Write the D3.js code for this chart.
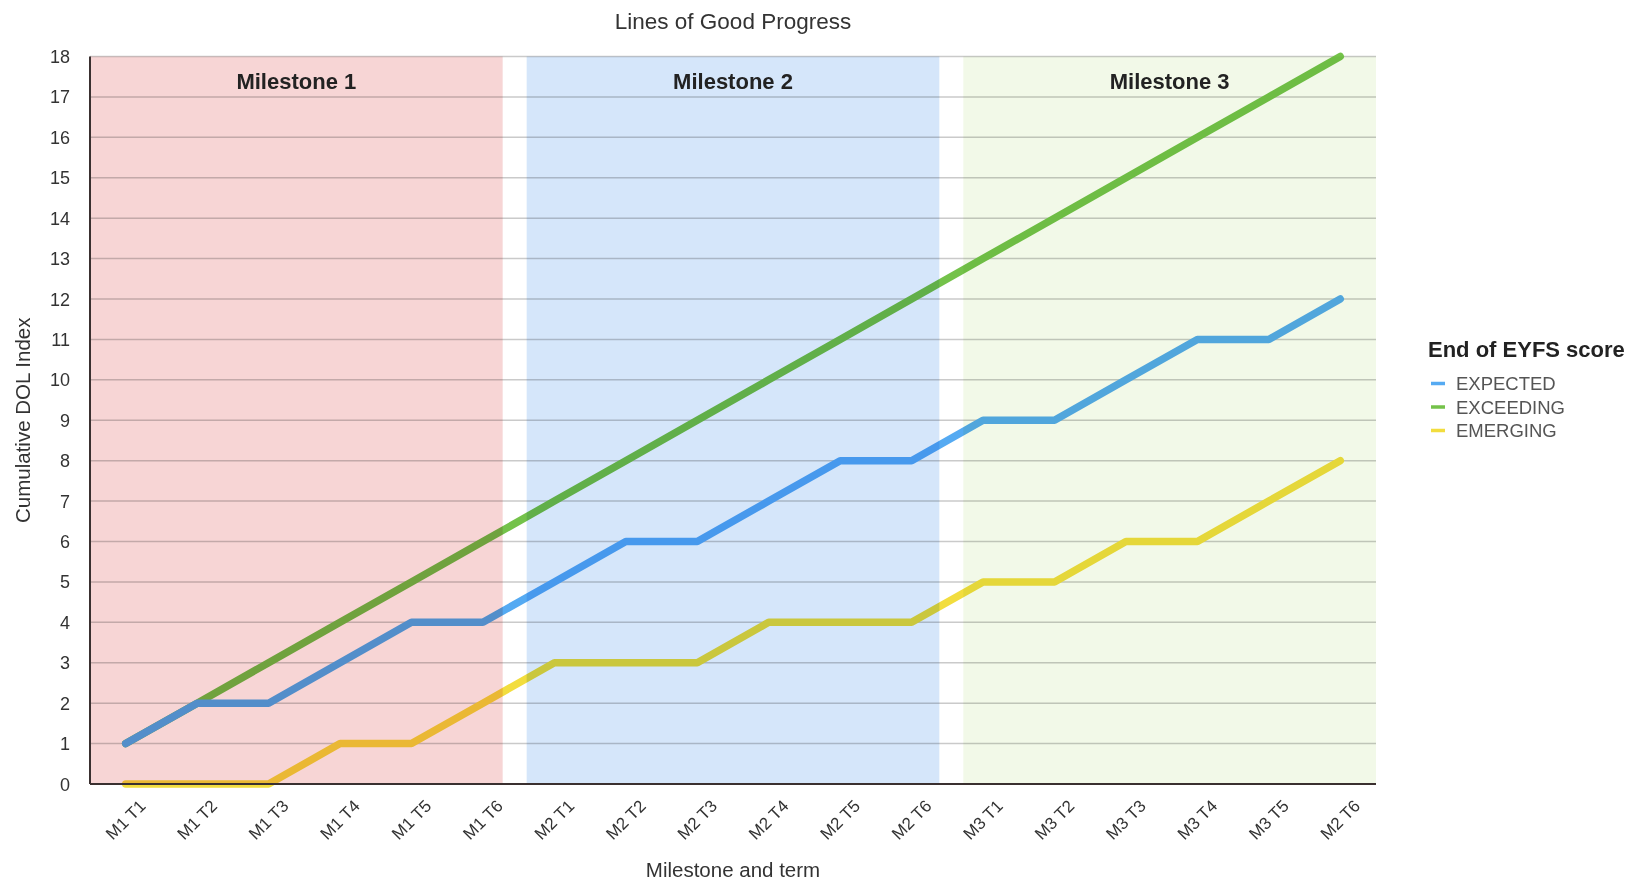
<!DOCTYPE html>
<html>
<head>
<meta charset="utf-8">
<script src="https://cdn.jsdelivr.net/npm/d3@7"></script>
<style>
  html, body { margin: 0; padding: 0; background: #fff; }
  svg { display: block; font-family: "Liberation Sans", Arial, sans-serif; }
</style>
</head>
<body>
<svg id="chart" width="1641" height="881"></svg>
<script>
// ---- Data ----
const categories = ["M1 T1","M1 T2","M1 T3","M1 T4","M1 T5","M1 T6",
                    "M2 T1","M2 T2","M2 T3","M2 T4","M2 T5","M2 T6",
                    "M3 T1","M3 T2","M3 T3","M3 T4","M3 T5","M2 T6"];
const expected  = [1,2,2,3,4,4,5,6,6,7,8,8,9,9,10,11,11,12];
const exceeding = [1,2,3,4,5,6,7,8,9,10,11,12,13,14,15,16,17,18];
const emerging  = [0,0,0,1,1,2,3,3,3,4,4,4,5,5,6,6,7,8];
const milestones = ["Milestone 1","Milestone 2","Milestone 3"];
const yTicks = d3.range(0, 19);
const seriesNames = ["EXPECTED","EXCEEDING","EMERGING"];

// ---- Layout ----
const svg = d3.select("#chart");
const L = 90, R = 1376, T = 56.5, B = 784;
const x = d3.scalePoint().domain(d3.range(categories.length)).range([L, R]).padding(0.5);
const y = d3.scaleLinear().domain([0, 18]).range([B, T]);
const colors = { EXPECTED: "#55aaf2", EXCEEDING: "#74c24a", EMERGING: "#f2dd3e" };
const bandColors = ["#f7d5d5", "#d5e6fa", "#f2f9e8"];

// title
svg.append("text").attr("x", (L + R) / 2).attr("y", 29).attr("text-anchor", "middle")
  .attr("font-size", 22.5).attr("fill", "#333").text("Lines of Good Progress");

// gridlines
svg.append("g").selectAll("line").data(yTicks).join("line")
  .attr("x1", L).attr("x2", R).attr("y1", d => y(d)).attr("y2", d => y(d))
  .attr("stroke", "#cacaca").attr("stroke-width", 1.5);

// lines
const line = d3.line().x((d, i) => x(i)).y(d => y(d));
const series = [["EXCEEDING", exceeding], ["EXPECTED", expected], ["EMERGING", emerging]];
svg.append("g").selectAll("path").data(series).join("path")
  .attr("d", d => line(d[1]))
  .attr("fill", "none")
  .attr("stroke", d => colors[d[0]])
  .attr("stroke-width", 7.5)
  .attr("stroke-linejoin", "round")
  .attr("stroke-linecap", "round");

// milestone bands (multiply over the lines)
const gap = 24;
const bandW = (R - L - 2 * gap) / 3;
const bands = svg.append("g");
milestones.forEach((m, i) => {
  const bx = L + i * (bandW + gap);
  bands.append("rect").attr("x", bx).attr("y", T).attr("width", bandW).attr("height", B - T)
    .attr("fill", bandColors[i]).style("mix-blend-mode", "multiply");
});
milestones.forEach((m, i) => {
  const bx = L + i * (bandW + gap);
  svg.append("text").attr("x", bx + bandW / 2).attr("y", 88.5).attr("text-anchor", "middle")
    .attr("font-size", 22).attr("font-weight", "bold").attr("fill", "#222").text(m);
});

// axes
svg.append("line").attr("x1", L).attr("x2", L).attr("y1", T).attr("y2", B)
  .attr("stroke", "#3a3030").attr("stroke-width", 2);
svg.append("line").attr("x1", L).attr("x2", R).attr("y1", B).attr("y2", B)
  .attr("stroke", "#3a3030").attr("stroke-width", 2);

// y tick labels
svg.append("g").selectAll("text").data(yTicks).join("text")
  .attr("x", 70).attr("y", d => y(d) + 6.5).attr("text-anchor", "end")
  .attr("font-size", 18).attr("fill", "#333").text(d => d);

// x tick labels
svg.append("g").selectAll("text").data(categories).join("text")
  .attr("transform", (d, i) => `translate(${x(i) + 21},${B + 23}) rotate(-45)`)
  .attr("text-anchor", "end").attr("font-size", 17).attr("fill", "#333").text(d => d);

// axis titles
svg.append("text").attr("x", (L + R) / 2).attr("y", 877).attr("text-anchor", "middle")
  .attr("font-size", 20.5).attr("fill", "#333").text("Milestone and term");
svg.append("text").attr("transform", `translate(30,${(T + B) / 2}) rotate(-90)`)
  .attr("text-anchor", "middle").attr("font-size", 20.5).attr("fill", "#333").text("Cumulative DOL Index");

// legend
svg.append("text").attr("x", 1428).attr("y", 356.5).attr("font-size", 22).attr("font-weight", "bold")
  .attr("fill", "#222").text("End of EYFS score");
const lg = svg.append("g").selectAll("g").data(seriesNames).join("g")
  .attr("transform", (d, i) => `translate(1431,${383.5 + i * 23.5})`);
lg.append("line").attr("x1", 0).attr("x2", 14).attr("y1", 0).attr("y2", 0)
  .attr("stroke", d => colors[d]).attr("stroke-width", 3.5);
lg.append("text").attr("x", 25).attr("y", 6.5).attr("font-size", 18.5).attr("fill", "#555").text(d => d);
</script>
</body>
</html>
